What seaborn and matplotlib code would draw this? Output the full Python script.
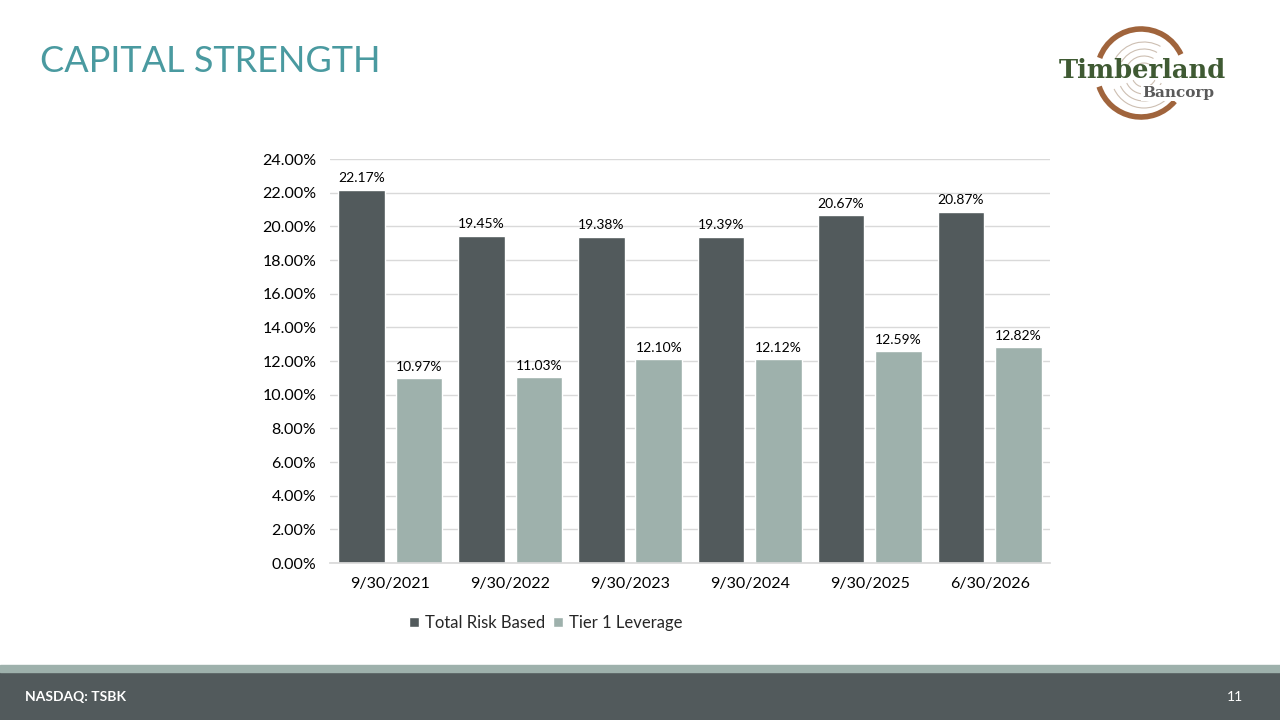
import matplotlib
matplotlib.use("Agg")
import matplotlib.pyplot as plt
import seaborn as sns
import pandas as pd
from matplotlib.patches import Rectangle, Arc

categories = ["9/30/2021", "9/30/2022", "9/30/2023", "9/30/2024", "9/30/2025", "6/30/2026"]
total_risk_based = [22.17, 19.45, 19.38, 19.39, 20.67, 20.87]
tier1_leverage = [10.97, 11.03, 12.10, 12.12, 12.59, 12.82]
series_names = ["Total Risk Based", "Tier 1 Leverage"]
y_ticks = [0, 2, 4, 6, 8, 10, 12, 14, 16, 18, 20, 22, 24]

dark = "#525A5C"
light = "#9EB1AC"
teal = "#4A9AA0"

df = pd.DataFrame({
    "date": categories * 2,
    "value": total_risk_based + tier1_leverage,
    "series": [series_names[0]] * 6 + [series_names[1]] * 6,
})

sns.set_theme(style="white")
plt.rcParams["font.family"] = ["Lato", "DejaVu Sans"]

fig = plt.figure(figsize=(12.8, 7.2), dpi=100)
ax = fig.add_axes([0.258, 0.218, 0.562, 0.561])

sns.barplot(data=df, x="date", y="value", hue="series", order=categories,
            hue_order=series_names, palette=[dark, light], width=0.96, gap=0.19,
            ax=ax, saturation=1, legend=True)

ax.set_ylim(0, 24)
ax.set_xlim(-0.5, 5.5)
ax.set_yticks(y_ticks)
ax.set_yticklabels([f"{t:.2f}%" for t in y_ticks], fontsize=11.5, color="#000000")
ax.tick_params(axis="x", labelsize=11.5, colors="#000000", pad=10)
ax.tick_params(axis="y", pad=10, length=0)
ax.tick_params(axis="x", length=0)
ax.set_xlabel("")
ax.set_ylabel("")
ax.grid(axis="y", color="#D9D9D9", linewidth=1)
ax.set_axisbelow(True)
for s in ["top", "right", "left"]:
    ax.spines[s].set_visible(False)
ax.spines["bottom"].set_color("#D9D9D9")

for cont in ax.containers:
    ax.bar_label(cont, labels=[f"{v:.2f}%" for v in cont.datavalues], padding=4, fontsize=10, color="#000000")

handles, labels = ax.get_legend_handles_labels()
ax.get_legend().remove()
fig.legend(handles, labels, loc="center left", bbox_to_anchor=(409 / 1280, 1 - 623 / 720),
           bbox_transform=fig.transFigure, ncol=2, frameon=False, borderpad=0, borderaxespad=0,
           fontsize=12, handlelength=0.6, handleheight=0.6, handletextpad=0.35, columnspacing=0.5)

# Title
fig.text(40 / 1280, 1 - 61 / 720, "CAPITAL STRENGTH", fontsize=26, color=teal, va="center", ha="left")

# Footer bands
fig.patches.append(Rectangle((0, 0), 1, 48 / 720, transform=fig.transFigure, color=dark, zorder=0))
fig.patches.append(Rectangle((0, 48 / 720), 1, 7 / 720, transform=fig.transFigure, color=light, zorder=0))
fig.text(25 / 1280, 1 - 697 / 720, "NASDAQ: TSBK", fontsize=10, color="white", fontweight="bold", va="center")
fig.text(1243 / 1280, 1 - 697 / 720, "11", fontsize=10, color="white", va="center", ha="right")

# Logo
lax = fig.add_axes([1040 / 1280, 1 - 130 / 720, 200 / 1280, 110 / 720])
lax.set_xlim(0, 200)
lax.set_ylim(110, 0)
lax.axis("off")
brown = "#A0643C"
cx, cy = 101, 53
lax.add_patch(Arc((cx, cy), 88, 88, theta1=40, theta2=162, color=brown, linewidth=4))
lax.add_patch(Arc((cx, cy), 88, 88, theta1=200, theta2=335, color=brown, linewidth=4))
for r in [66, 52, 38, 24]:
    lax.add_patch(Arc((cx + 3, cy + 2), r, r, theta1=25, theta2=155, color="#CDBFB2", linewidth=0.8))
    lax.add_patch(Arc((cx + 3, cy + 2), r, r, theta1=210, theta2=300, color="#CDBFB2", linewidth=0.8))
lax.text(102, 51, "Timberland", fontsize=18.5, fontweight="bold", family="DejaVu Serif",
         color="#3F5A33", ha="center", va="center")
lax.text(138, 73, "Bancorp", fontsize=11, fontweight="bold", family="DejaVu Serif",
         color="#5A5A5A", ha="center", va="center",
         bbox=dict(facecolor="white", edgecolor="none", pad=0.5))

fig.savefig("out.png", dpi=100)
